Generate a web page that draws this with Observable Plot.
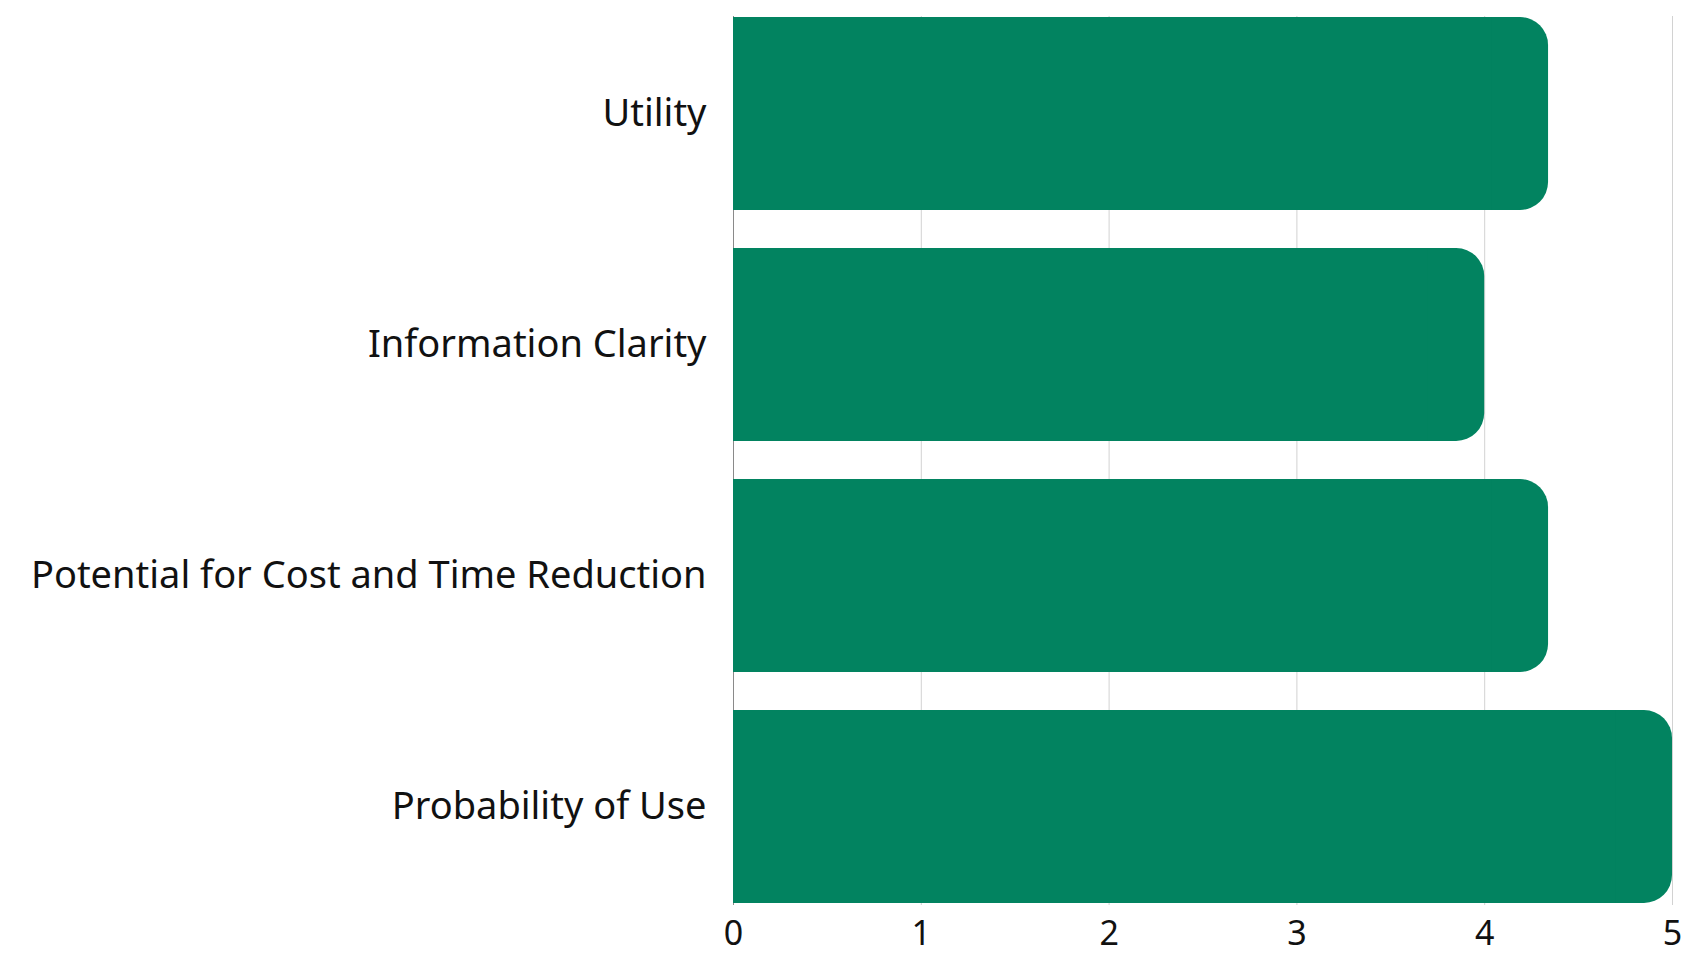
<!DOCTYPE html>
<html>
<head>
<meta charset="utf-8">
<script src="https://cdn.jsdelivr.net/npm/d3@7"></script>
<script src="https://cdn.jsdelivr.net/npm/@observablehq/plot@0.6"></script>
<style>
  html, body { margin: 0; padding: 0; background: #ffffff; }
  #chart svg { display: block; }
</style>
</head>
<body>
<div id="chart"></div>
<script>
const categories = ["Utility", "Information Clarity", "Potential for Cost and Time Reduction", "Probability of Use"];
const scores = [4.34, 4.0, 4.34, 5.0];
const xTicks = [0, 1, 2, 3, 4, 5];

const data = categories.map((c, i) => ({category: c, value: scores[i]}));
const barColor = "#028360";

const chart = Plot.plot({
  width: 1702,
  height: 954,
  marginTop: 16,
  marginBottom: 49,
  marginLeft: 733,
  marginRight: 30,
  style: {fontFamily: "'Noto Sans', sans-serif", background: "#ffffff", color: "#111"},
  x: {domain: [0, 5], ticks: xTicks, label: null},
  y: {domain: categories, paddingInner: 0.163, paddingOuter: 0, label: null},
  marks: [
    Plot.ruleX(xTicks.filter(t => t > 0), {stroke: "#d2d2d2", strokeWidth: 1}),
    Plot.ruleX([0], {stroke: "#8a8a8a", strokeWidth: 1}),
    Plot.barX(data, {x1: 0, x2: "value", y: "category", fill: barColor, rx: 28}),
    Plot.barX(data, {x1: 0, x2: d => d.value - 0.3, y: "category", fill: barColor}),
    Plot.axisX({ticks: xTicks, tickFormat: d3.format("d"), tickSize: 0, tickPadding: 15, fontSize: 34, fill: "#111", label: null}),
    Plot.axisY({tickSize: 0, tickPadding: 27, fontSize: 38, fill: "#111", label: null})
  ]
});
document.getElementById("chart").appendChild(chart);
</script>
</body>
</html>
